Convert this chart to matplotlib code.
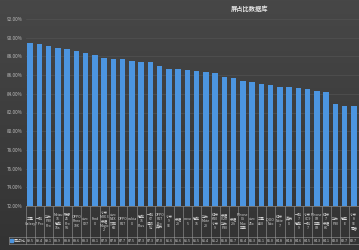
import matplotlib
matplotlib.use("Agg")
import matplotlib.pyplot as plt
from matplotlib.patches import Rectangle
import numpy as np

plt.rcParams['font.family'] = ['Noto Sans CJK SC', 'DejaVu Sans']

title = "屏占比数据库"
series_name = "屏占比"
phones = ["三星\nGalaxy", "一加\n7 Pro", "华为\nP30\nPro", "Meizu\n16\n魅族\n16s", "联想\nZ6\nPro\n5G",
          "OPPO\nReno\n10X", "vivo\nX27", "Find\nX", "小米\nMIX 3\n荣耀\nMagic\n2", "vivo\nNEX\n双屏\n版",
          "OPPO\nR17", "nubia\nX", "魅族\n16\nPlus", "一加\n6T\n迈凯\n伦", "OPPO\nR17\nPro\n真我",
          "小米\n9\nSE", "荣耀\n20", "nova\n5", "魅族\n16", "华为\nMate\n20", "红米\nK20\n小米\n9",
          "荣耀\nV20\n华为\nP30", "荣耀\n20i", "iPhone\nXS\nMax\n苹果", "vivo\nZ5x", "三星\nA60",
          "iQOO\nNeo", "红米\nNote\n7", "真我\nX", "一加\n7\n魅族\n9", "小米\nCC9\n一加\n7",
          "iPhone\nXR\n苹果\nXR", "红米\n7\n荣耀\n8X", "华为\nP30", "魅蓝\nE", "小米\n8\nSE\n青春"]
ratio = [89.46, 89.36, 89.14, 88.89, 88.78, 88.61, 88.35, 88.14, 87.86, 87.75,
         87.67, 87.53, 87.35, 87.35, 86.96, 86.60, 86.60, 86.53, 86.46, 86.36,
         86.25, 85.85, 85.74, 85.42, 85.28, 85.10, 84.96, 84.78, 84.75, 84.60,
         84.53, 84.28, 84.14, 82.96, 82.74, 82.74]

W, H = 359, 250
fig = plt.figure(figsize=(W / 100, H / 100), dpi=100)

# background gradient
bg = fig.add_axes([0, 0, 1, 1], zorder=0)
grad = np.linspace(0, 1, 200).reshape(-1, 1) * np.ones((1, 200))
bg.imshow(grad, cmap=matplotlib.colors.LinearSegmentedColormap.from_list("g", ["#474747", "#333333"]),
          aspect="auto", extent=[0, 1, 0, 1])
bg.axis("off")

ax = fig.add_axes([25.5 / W, 44 / H, 333 / W, 187 / H], zorder=1)
ax.patch.set_alpha(0)
x = np.arange(len(ratio))
ax.bar(x, ratio, width=0.58, color="#4c95e0", zorder=2)
ax.set_xlim(-0.5, len(ratio) - 0.5)
ax.set_ylim(72, 92)
ax.set_yticks(np.arange(72, 93, 2))
ax.set_yticklabels(["%.2f%%" % v for v in np.arange(72, 93, 2)], fontsize=3.3, color="#bdbdbd")
ax.tick_params(axis="y", length=0, pad=2)
ax.set_xticks([])
ax.grid(axis="y", color="#525252", linewidth=0.5, zorder=0)
for s in ["top", "right", "left"]:
    ax.spines[s].set_visible(False)
ax.spines["bottom"].set_color("#8a8a8a")
ax.spines["bottom"].set_linewidth(0.5)

# data table under the axis
tr = ax.get_xaxis_transform()
tb = -0.165
bot = -0.205
lc = "#9a9a9a"
for i in range(len(ratio) + 1):
    ax.plot([i - 0.5, i - 0.5], [0, bot], transform=tr, color=lc, lw=0.4, clip_on=False)
ax.plot([-0.5, len(ratio) - 0.5], [tb, tb], transform=tr, color=lc, lw=0.4, clip_on=False)
ax.plot([-2.3, len(ratio) - 0.5], [bot, bot], transform=tr, color=lc, lw=0.4, clip_on=False)
ax.plot([-2.3, -2.3], [tb, bot], transform=tr, color=lc, lw=0.4, clip_on=False)
ax.plot([-2.3, -0.5], [tb, tb], transform=tr, color=lc, lw=0.4, clip_on=False)
for i, (name, v) in enumerate(zip(phones, ratio)):
    ax.text(i, tb / 2, name, transform=tr, ha="center", va="center", fontsize=2.5,
            color="#d8d8d8", linespacing=1.1, clip_on=False)
    ax.text(i, (tb + bot) / 2, "%.1f" % v, transform=tr, ha="center", va="center",
            fontsize=2.6, color="#d8d8d8", clip_on=False)
ax.add_patch(Rectangle((-2.2, (tb + bot) / 2 - 0.008), 0.35, 0.016, transform=tr,
                       color="#4c95e0", clip_on=False))
ax.text(-1.75, (tb + bot) / 2, series_name, transform=tr, ha="left", va="center", fontsize=2.9,
        color="#d8d8d8", clip_on=False)

fig.text(250 / W, 1 - 8 / H, title, ha="center", va="center", fontsize=4.5,
         color="#e6e6e6", fontweight="bold")

fig.savefig("out.png", dpi=100)
